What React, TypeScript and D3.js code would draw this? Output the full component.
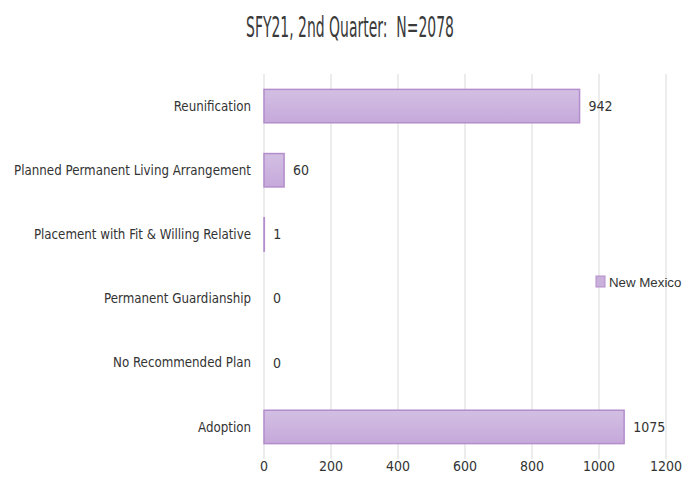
import React from "react";
import * as d3 from "d3";

const categories = [
  "Reunification",
  "Planned Permanent Living Arrangement",
  "Placement with Fit & Willing Relative",
  "Permanent Guardianship",
  "No Recommended Plan",
  "Adoption",
];
const values = [942, 60, 1, 0, 0, 1075];
const xTicks = [0, 200, 400, 600, 800, 1000, 1200];
const seriesName = "New Mexico";
const title = "SFY21, 2nd Quarter:  N=2078";

const W = 696;
const H = 496;
const left = 264;
const right = 666;
const top = 74;
const bottom = 459;
const font = "'DejaVu Sans Condensed', 'Liberation Sans Narrow', 'DejaVu Sans', sans-serif";

export default function App() {
  const x = d3.scaleLinear().domain([0, 1200]).range([left, right]);
  const y = d3.scaleBand<string>().domain(categories).range([top, bottom]).paddingInner(0.48).paddingOuter(0.24);
  return (
    <svg width={W} height={H} style={{ position: "absolute", left: 0, top: 0, background: "#fff" }}>
      <defs>
        <linearGradient id="bg" x1="0" y1="0" x2="0" y2="1">
          <stop offset="0" stopColor="#d3bfe3" />
          <stop offset="1" stopColor="#c5a9da" />
        </linearGradient>
      </defs>
      <rect x={0} y={0} width={W} height={H} fill="#fff" />
      <text
        x={350}
        y={37}
        textAnchor="middle"
        fontFamily={font}
        fontSize={29}
        fill="#3a3a3a"
        style={{ whiteSpace: "pre" }}
        transform="translate(350,0) scale(0.535,1) translate(-350,0)"
      >
        {title}
      </text>
      {xTicks.map((t) => (
        <line key={t} x1={x(t)} x2={x(t)} y1={top} y2={bottom} stroke="#d9d9d9" strokeWidth={1} />
      ))}
      {categories.map((c, i) => (
        <g key={c}>
          <rect
            x={x(0)}
            y={y(c)!}
            width={Math.max(0, x(values[i]) - x(0))}
            height={y.bandwidth()}
            fill="url(#bg)"
            stroke="#b38dcc"
            strokeWidth={1.5}
          />
          <text
            x={left - 13}
            y={y(c)! + y.bandwidth() / 2}
            dy="0.35em"
            textAnchor="end"
            fontFamily={font}
            fontSize={13.2}
            fill="#333"
          >
            {c}
          </text>
          <text
            x={x(values[i]) + 9}
            y={y(c)! + y.bandwidth() / 2}
            dy="0.35em"
            fontFamily={font}
            fontSize={14}
            fill="#333"
          >
            {values[i]}
          </text>
        </g>
      ))}
      {xTicks.map((t) => (
        <text key={"l" + t} x={x(t)} y={471} textAnchor="middle" fontFamily={font} fontSize={14} fill="#333">
          {t}
        </text>
      ))}
      <rect x={596} y={276} width={9} height={11} fill="#c9b1dc" stroke="#b38dcc" strokeWidth={1} />
      <text x={609} y={282} dy="0.35em" fontFamily="'Liberation Sans', Arial, sans-serif" fontSize={13.3} fill="#333">
        {seriesName}
      </text>
    </svg>
  );
}
